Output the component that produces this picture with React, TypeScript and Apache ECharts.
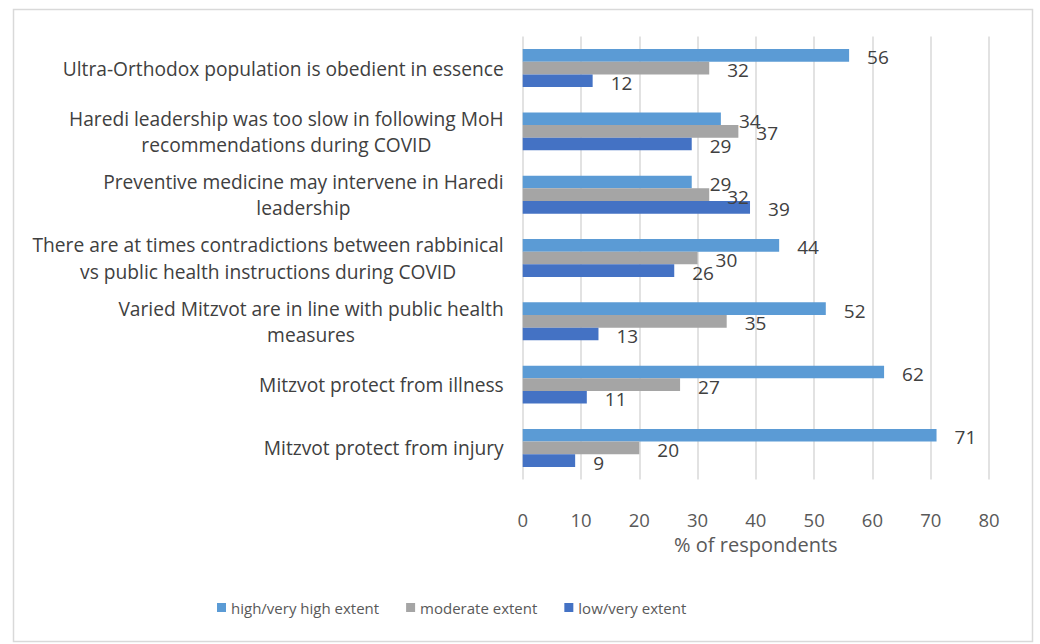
import React, { useEffect, useRef } from "react";
import * as echarts from "echarts";

// Statements, listed top to bottom
const statements: string[][] = [
  ["Ultra-Orthodox population is obedient in essence"],
  ["Haredi leadership was too slow in following MoH", "recommendations during COVID"],
  ["Preventive medicine may intervene in Haredi", "leadership"],
  ["There are at times contradictions between rabbinical", "vs public health instructions during COVID"],
  ["Varied Mitzvot are in line with public health", "measures"],
  ["Mitzvot protect from illness"],
  ["Mitzvot protect from injury"],
];

const highExtent = [56, 34, 29, 44, 52, 62, 71];
const moderateExtent = [32, 37, 32, 30, 35, 27, 20];
const lowExtent = [12, 29, 39, 26, 13, 11, 9];

const seriesNames = ["high/very high extent", "moderate extent", "low/very extent"];
const seriesColors = ["#5B9BD5", "#A5A5A5", "#4472C4"];

const xTicks = [0, 10, 20, 30, 40, 50, 60, 70, 80];
const xTitle = "% of respondents";

const FONT = "Open Sans";

export default function App() {
  const ref = useRef<HTMLDivElement>(null);

  useEffect(() => {
    document.body.style.margin = "0";
    const chart = echarts.init(ref.current!, null, { renderer: "svg" });
    const categories = statements.map((lines) => lines.join("\n"));
    const values = [highExtent, moderateExtent, lowExtent];

    chart.setOption({
      animation: false,
      backgroundColor: "#ffffff",
      textStyle: { fontFamily: FONT },
      graphic: [
        {
          type: "rect",
          shape: { x: 13.5, y: 9.5, width: 1019, height: 632 },
          style: { fill: "none", stroke: "#D9D9D9", lineWidth: 1.5 },
          silent: true,
        },
      ],
      grid: { left: 522.7, right: 51, top: 36.4, bottom: 164.4 },
      legend: {
        left: 212,
        top: 595,
        itemWidth: 9,
        itemHeight: 9,
        itemGap: 27,
        icon: "rect",
        textStyle: { fontFamily: FONT, fontSize: 15, color: "#595959" },
        data: seriesNames,
      },
      xAxis: {
        type: "value",
        min: xTicks[0],
        max: xTicks[xTicks.length - 1],
        interval: 10,
        name: xTitle,
        nameLocation: "middle",
        nameGap: 55,
        nameTextStyle: { fontFamily: FONT, fontSize: 20, color: "#595959" },
        axisLine: { show: false },
        axisTick: { show: false },
        axisLabel: { fontFamily: FONT, fontSize: 18.5, color: "#595959", margin: 30 },
        splitLine: { lineStyle: { color: "#D9D9D9", width: 1.5 } },
      },
      yAxis: {
        type: "category",
        inverse: true,
        data: categories,
        axisLine: { show: false },
        axisTick: { show: false },
        axisLabel: {
          margin: 19,
          formatter: (v: string) => v.split("\n").map((l) => `{c|${l}}`).join("\n"),
          rich: {
            c: { align: "center", fontFamily: FONT, fontSize: 19.2, color: "#404040", lineHeight: 26.5 },
          },
        },
      },
      series: values.map((data, i) => ({
        name: seriesNames[i],
        type: "bar",
        data,
        barGap: "0%",
        barCategoryGap: "40%",
        itemStyle: { color: seriesColors[i] },
        label: {
          show: true,
          position: "right",
          distance: 18,
          offset: [0, 2],
          fontFamily: FONT,
          fontSize: 19,
          color: "#404040",
        },
      })),
    });
    return () => chart.dispose();
  }, []);

  return <div ref={ref} style={{ width: 1040, height: 644 }} />;
}
